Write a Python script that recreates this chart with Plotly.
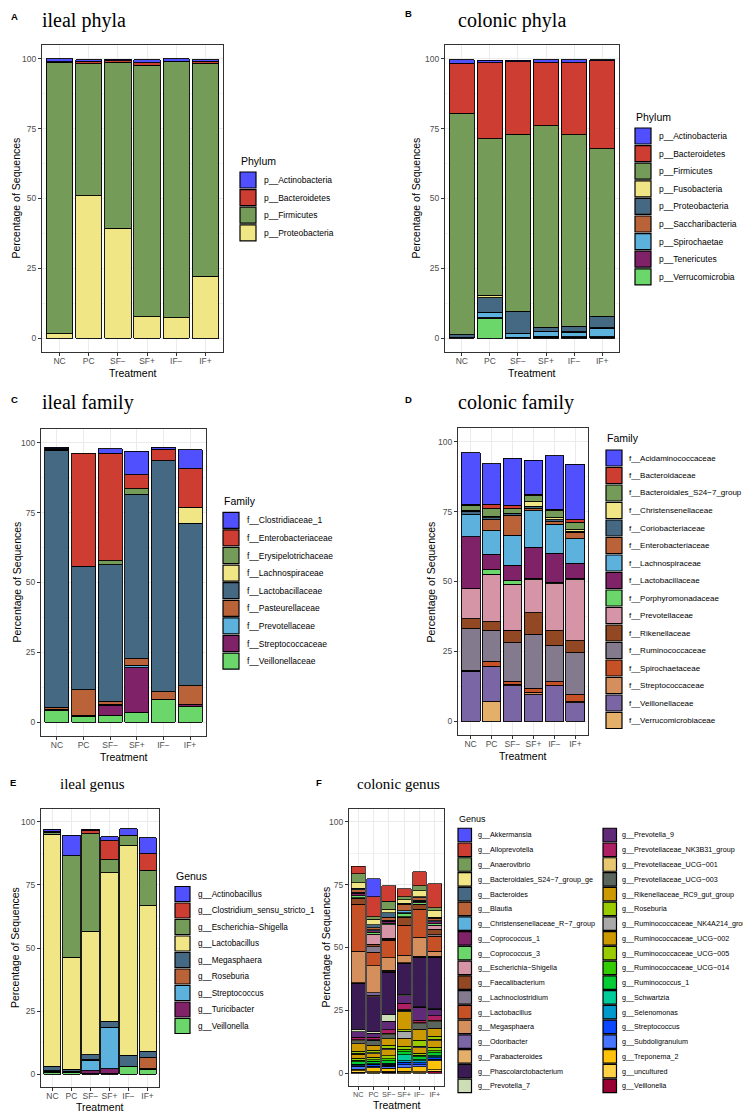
import plotly.graph_objects as go

W, H = 751, 1111
TREATMENTS = ["NC", "PC", "SF−", "SF+", "IF−", "IF+"]

IGV = ["#5050FF", "#CE3D32", "#749B58", "#F0E685", "#466983", "#BA6338", "#5DB1DD",
       "#802268", "#6BD76B", "#D595A7", "#924822", "#837B8D", "#C75127", "#D58F5C",
       "#7A65A5", "#E4AF69", "#3B1B53", "#CDDEB7", "#612A79", "#AE1F63", "#E7C76F",
       "#5A655E", "#CC9900", "#99CC00", "#A9A9A9", "#CC9900", "#99CC00", "#33CC00",
       "#00CC33", "#00CC99", "#0099CC", "#0A47FF", "#4775FF", "#FFC20A", "#FFD147",
       "#990033"]

# ---------------- A: ileal phyla ----------------
ileal_phyla_names = ["p__Actinobacteria", "p__Bacteroidetes", "p__Firmicutes", "p__Proteobacteria"]
ip_actinobacteria = [1.0, 0.6, 0.5, 1.0, 0.8, 0.6]
ip_bacteroidetes = [0.1, 1.0, 0.5, 1.0, 0.2, 0.8]
ip_firmicutes = [97.4, 47.2, 59.6, 90.1, 91.7, 76.3]
ip_proteobacteria = [1.5, 51.0, 39.3, 7.6, 7.3, 22.1]
ileal_phyla_values = [ip_actinobacteria, ip_bacteroidetes, ip_firmicutes, ip_proteobacteria]

# ---------------- B: colonic phyla ----------------
colonic_phyla_names = ["p__Actinobacteria", "p__Bacteroidetes", "p__Firmicutes", "p__Fusobacteria",
                       "p__Proteobacteria", "p__Saccharibacteria", "p__Spirochaetae",
                       "p__Tenericutes", "p__Verrucomicrobia"]
cp_actinobacteria = [1.4, 0.9, 0.5, 1.1, 1.0, 0.4]
cp_bacteroidetes = [17.8, 27.2, 26.0, 22.7, 25.8, 31.5]
cp_firmicutes = [79.5, 56.2, 63.4, 72.2, 68.7, 60.1]
cp_fusobacteria = [0, 0.8, 0, 0, 0, 0]
cp_proteobacteria = [0.8, 5.3, 7.8, 1.3, 1.9, 4.1]
cp_saccharibacteria = [0, 0.2, 0.3, 0.3, 0.3, 0.2]
cp_spirochaetae = [0.3, 1.8, 1.3, 1.6, 1.5, 3.1]
cp_tenericutes = [0, 0.2, 0.2, 0.3, 0.3, 0.2]
cp_verrucomicrobia = [0, 7.0, 0, 0.3, 0.2, 0.2]
colonic_phyla_values = [cp_actinobacteria, cp_bacteroidetes, cp_firmicutes, cp_fusobacteria,
                        cp_proteobacteria, cp_saccharibacteria, cp_spirochaetae,
                        cp_tenericutes, cp_verrucomicrobia]

# ---------------- C: ileal family ----------------
ileal_family_names = ["f__Clostridiaceae_1", "f__Enterobacteriaceae", "f__Erysipelotrichaceae",
                      "f__Lachnospiraceae", "f__Lactobacillaceae", "f__Pasteurellaceae",
                      "f__Prevotellaceae", "f__Streptococcaceae", "f__Veillonellaceae"]
if_clostridiaceae_1 = [0.5, 0, 1.6, 8.4, 0.6, 6.8]
if_enterobacteriaceae = [0.2, 40.6, 38.6, 5.0, 4.1, 13.9]
if_erysipelotrichaceae = [0.3, 0, 1.4, 1.9, 0, 0]
if_lachnospiraceae = [0, 0, 0, 0, 0, 5.6]
if_lactobacillaceae = [92.1, 44.3, 48.9, 59.1, 82.9, 58.3]
if_pasteurellaceae = [0.8, 9.0, 1.2, 2.2, 2.6, 6.7]
if_prevotellaceae = [0, 0, 0.3, 1.0, 0, 0]
if_streptococcaceae = [0.5, 0.5, 3.5, 15.9, 0.2, 0.8]
if_veillonellaceae = [4.0, 2.0, 2.5, 3.5, 8.0, 5.5]
ileal_family_values = [if_clostridiaceae_1, if_enterobacteriaceae, if_erysipelotrichaceae,
                       if_lachnospiraceae, if_lactobacillaceae, if_pasteurellaceae,
                       if_prevotellaceae, if_streptococcaceae, if_veillonellaceae]

# ---------------- D: colonic family ----------------
colonic_family_names = ["f__Acidaminococcaceae", "f__Bacteroidaceae", "f__Bacteroidales_S24−7_group",
                        "f__Christensenellaceae", "f__Coriobacteriaceae", "f__Enterobacteriaceae",
                        "f__Lachnospiraceae", "f__Lactobacillaceae", "f__Porphyromonadaceae",
                        "f__Prevotellaceae", "f__Rikenellaceae", "f__Ruminococcaceae",
                        "f__Spirochaetaceae", "f__Streptococcaceae", "f__Veillonellaceae",
                        "f__Verrucomicrobiaceae"]
cf_acidaminococcaceae = [18.5, 14.6, 16.8, 12.2, 19.2, 19.8]
cf_bacteroidaceae = [0.3, 1.5, 1.4, 0.4, 0.4, 0.9]
cf_s24_7_group = [1.9, 2.7, 1.5, 2.3, 2.6, 2.8]
cf_christensenellaceae = [0.3, 0.6, 0.2, 1.5, 0.7, 0.5]
cf_coriobacteriaceae = [1.2, 0.6, 0.6, 0.8, 0.7, 0.4]
cf_enterobacteriaceae = [0, 4.0, 7.2, 0.8, 0.8, 2.3]
cf_lachnospiraceae = [7.9, 8.4, 10.7, 13.2, 10.4, 8.7]
cf_lactobacillaceae = [18.7, 5.6, 5.6, 11.0, 10.4, 5.6]
cf_porphyromonadaceae = [0, 1.6, 1.2, 0.6, 0.6, 0.4]
cf_prevotellaceae = [10.8, 17.0, 16.5, 11.8, 16.9, 21.9]
cf_rikenellaceae = [3.6, 3.3, 4.4, 7.7, 5.3, 4.2]
cf_ruminococcaceae = [14.8, 10.8, 13.8, 19.3, 13.0, 15.1]
cf_spirochaetaceae = [0.3, 1.8, 1.2, 1.4, 1.4, 2.5]
cf_streptococcaceae = [0, 0, 0.5, 1.0, 0, 0.4]
cf_veillonellaceae = [17.9, 12.7, 12.6, 9.4, 12.6, 6.5]
cf_verrucomicrobiaceae = [0, 7.0, 0, 0, 0, 0]
colonic_family_values = [cf_acidaminococcaceae, cf_bacteroidaceae, cf_s24_7_group,
                         cf_christensenellaceae, cf_coriobacteriaceae, cf_enterobacteriaceae,
                         cf_lachnospiraceae, cf_lactobacillaceae, cf_porphyromonadaceae,
                         cf_prevotellaceae, cf_rikenellaceae, cf_ruminococcaceae,
                         cf_spirochaetaceae, cf_streptococcaceae, cf_veillonellaceae,
                         cf_verrucomicrobiaceae]

# ---------------- E: ileal genus ----------------
ileal_genus_names = ["g__Actinobacillus", "g__Clostridium_sensu_stricto_1", "g__Escherichia−Shigella",
                     "g__Lactobacillus", "g__Megasphaera", "g__Roseburia", "g__Streptococcus",
                     "g__Turicibacter", "g__Veillonella"]
ig_actinobacillus = [0.7, 8.1, 0.4, 1.6, 2.6, 6.4]
ig_clostridium = [0.4, 0, 1.3, 7.4, 0, 6.6]
ig_escherichia = [0.8, 40.1, 38.5, 5.2, 4.1, 14.0]
ig_lactobacillus = [91.7, 44.3, 48.9, 58.8, 82.9, 57.6]
ig_megasphaera = [1.9, 0.8, 2.0, 2.4, 4.3, 2.4]
ig_roseburia = [0.2, 0, 0.3, 0.2, 0.3, 4.4]
ig_streptococcus = [0, 0, 4.0, 16.1, 0, 0]
ig_turicibacter = [0.4, 0.5, 1.2, 1.8, 0, 0.3]
ig_veillonella = [0.8, 0.8, 0.3, 0.5, 3.0, 2.0]
ileal_genus_values = [ig_actinobacillus, ig_clostridium, ig_escherichia, ig_lactobacillus,
                      ig_megasphaera, ig_roseburia, ig_streptococcus, ig_turicibacter,
                      ig_veillonella]

# ---------------- F: colonic genus ----------------
colonic_genus_names = [
    "g__Akkermansia", "g__Alloprevotella", "g__Anaerovibrio", "g__Bacteroidales_S24−7_group_ge",
    "g__Bacteroides", "g__Blautia", "g__Christensenellaceae_R−7_group", "g__Coprococcus_1",
    "g__Coprococcus_3", "g__Escherichia−Shigella", "g__Faecalibacterium", "g__Lachnoclostridium",
    "g__Lactobacillus", "g__Megasphaera", "g__Odoribacter", "g__Parabacteroides",
    "g__Phascolarctobacterium", "g__Prevotella_7", "g__Prevotella_9",
    "g__Prevotellaceae_NK3B31_group", "g__Prevotellaceae_UCG−001", "g__Prevotellaceae_UCG−003",
    "g__Rikenellaceae_RC9_gut_group", "g__Roseburia", "g__Ruminococcaceae_NK4A214_group",
    "g__Ruminococcaceae_UCG−002", "g__Ruminococcaceae_UCG−005", "g__Ruminococcaceae_UCG−014",
    "g__Ruminococcus_1", "g__Schwartzia", "g__Selenomonas", "g__Streptococcus",
    "g__Subdoligranulum", "g__Treponema_2", "g__uncultured", "g__Veillonella"]
cg_akkermansia = [0, 7.2, 0, 0, 0, 0]
cg_alloprevotella = [2.9, 7.8, 6.2, 3.1, 5.4, 9.6]
cg_anaerovibrio = [3.5, 1.1, 3.3, 1.2, 2.1, 1.2]
cg_s24_7_group_ge = [2.3, 2.1, 1.2, 1.5, 2.3, 2.6]
cg_bacteroides = [0.5, 1.3, 1.8, 0.4, 0.4, 0.3]
cg_blautia = [1.0, 0.8, 1.3, 2.5, 1.0, 1.0]
cg_christensenellaceae = [0.4, 0.3, 0.3, 0.7, 0.5, 0.4]
cg_coprococcus_1 = [1.0, 0.6, 0.8, 0.3, 0.5, 0.8]
cg_coprococcus_3 = [0.8, 0.8, 0.6, 1.4, 0.6, 0.6]
cg_escherichia = [0.3, 4.0, 5.5, 0.2, 0.2, 1.6]
cg_faecalibacterium = [2.4, 1.0, 0.4, 3.1, 1.8, 2.3]
cg_lachnoclostridium = [0.2, 2.1, 0.3, 0.3, 0.3, 0.5]
cg_lactobacillus = [18.4, 5.4, 7.0, 11.7, 10.8, 6.0]
cg_megasphaera = [12.4, 10.8, 4.9, 2.9, 7.6, 2.0]
cg_odoribacter = [0.2, 1.0, 0.5, 0.2, 0.3, 0.3]
cg_parabacteroides = [0.3, 0.5, 0.3, 0.2, 0.3, 0.3]
cg_phascolarctobacterium = [18.0, 14.0, 16.9, 12.2, 19.3, 20.0]
cg_prevotella_7 = [1.0, 0.5, 2.5, 0.5, 0.4, 0.4]
cg_prevotella_9 = [2.2, 1.6, 3.4, 3.0, 5.1, 2.7]
cg_nk3b31 = [1.1, 1.0, 1.5, 2.4, 1.0, 1.6]
cg_ucg_001 = [0.3, 0.3, 0.5, 0.4, 0.3, 0.6]
cg_ucg_003 = [1.2, 1.9, 1.6, 0.6, 2.2, 2.6]
cg_rikenellaceae_rc9 = [3.0, 2.0, 2.6, 7.2, 4.4, 3.2]
cg_roseburia = [0.7, 0.9, 1.3, 0.6, 2.5, 1.3]
cg_nk4a214 = [0.5, 0.4, 0.6, 2.8, 0.6, 0.6]
cg_rum_ucg_002 = [1.6, 1.5, 2.2, 3.2, 2.0, 2.5]
cg_rum_ucg_005 = [0.8, 1.0, 1.2, 1.2, 0.8, 1.4]
cg_rum_ucg_014 = [0.6, 0.5, 0.8, 0.8, 0.6, 0.8]
cg_ruminococcus_1 = [1.0, 1.0, 1.0, 1.2, 1.2, 1.2]
cg_schwartzia = [0.2, 0.2, 0.5, 2.5, 0.4, 0.3]
cg_selenomonas = [0.3, 0.3, 0.4, 0.6, 0.8, 0.5]
cg_streptococcus = [0.3, 0.5, 0.4, 1.0, 0.8, 0.5]
cg_subdoligranulum = [1.2, 0.6, 0.8, 1.2, 0.8, 0.6]
cg_treponema_2 = [0.5, 1.7, 1.2, 1.4, 2.0, 3.6]
cg_uncultured = [0.6, 0.4, 0.4, 0.5, 0.4, 0.6]
cg_veillonella = [0.5, 0.2, 0.4, 0.3, 0.3, 0.9]
colonic_genus_values = [
    cg_akkermansia, cg_alloprevotella, cg_anaerovibrio, cg_s24_7_group_ge, cg_bacteroides,
    cg_blautia, cg_christensenellaceae, cg_coprococcus_1, cg_coprococcus_3, cg_escherichia,
    cg_faecalibacterium, cg_lachnoclostridium, cg_lactobacillus, cg_megasphaera, cg_odoribacter,
    cg_parabacteroides, cg_phascolarctobacterium, cg_prevotella_7, cg_prevotella_9, cg_nk3b31,
    cg_ucg_001, cg_ucg_003, cg_rikenellaceae_rc9, cg_roseburia, cg_nk4a214, cg_rum_ucg_002,
    cg_rum_ucg_005, cg_rum_ucg_014, cg_ruminococcus_1, cg_schwartzia, cg_selenomonas,
    cg_streptococcus, cg_subdoligranulum, cg_treponema_2, cg_uncultured, cg_veillonella]

SANS = "Liberation Sans, Arial, sans-serif"
SERIF = "Liberation Serif, Times New Roman, serif"


def fx(x):
    return x / W


def fy(y):
    return 1 - y / H


panels = [
    dict(letter="A", title="ileal phyla", box=(34, 215, 37, 344), tpos=(32, 13), lpos=(6, 8), tsize=20,
         ytx=8, xfs=8.5, tt=21, names=ileal_phyla_names, values=ileal_phyla_values, legend_title="Phylum",
         leg=dict(kx=232, ty=153, y0=172, step=17.6, ks=16, tx=254, fs=8.5, tfs=10.5)),
    dict(letter="B", title="colonic phyla", box=(437, 611, 37, 344), tpos=(448, 13), lpos=(400, 6), tsize=20,
         ytx=408, xfs=8.5, tt=21, names=colonic_phyla_names, values=colonic_phyla_values, legend_title="Phylum",
         leg=dict(kx=627, ty=109, y0=128, step=17.6, ks=16, tx=649, fs=8.5, tfs=10.5)),
    dict(letter="C", title="ileal family", box=(33, 198, 421, 728), tpos=(32, 395), lpos=(6, 392), tsize=20,
         ytx=8, xfs=8.5, tt=21, names=ileal_family_names, values=ileal_family_values, legend_title="Family",
         leg=dict(kx=215, ty=493, y0=512.3, step=17.6, ks=16, tx=237, fs=8.5, tfs=10.5)),
    dict(letter="D", title="colonic family", box=(450, 580, 420, 727), tpos=(448, 395), lpos=(400, 392), tsize=20,
         ytx=422, xfs=8.5, tt=21, names=colonic_family_names, values=colonic_family_values, legend_title="Family",
         leg=dict(kx=598, ty=430, y0=450, step=17.5, ks=16, tx=619, fs=8.0, tfs=10.5)),
    dict(letter="E", title="ileal genus", box=(33, 151, 801, 1079), tpos=(50, 776), lpos=(5, 774), tsize=15,
         ytx=7, xfs=8.5, tt=20, names=ileal_genus_names, values=ileal_genus_values, legend_title="Genus",
         leg=dict(kx=167, ty=868, y0=886, step=16.5, ks=15, tx=188, fs=8.2, tfs=10.5)),
    dict(letter="F", title="colonic genus", box=(341, 436, 801, 1078), tpos=(347, 776), lpos=(311, 774), tsize=15,
         ytx=317, xfs=7.3, tt=19, names=colonic_genus_names, values=colonic_genus_values, legend_title="Genus",
         leg=dict(kx=450, ty=811, y0=827, step=14.76, ks=13.5, tx=468, fs=7.2, tfs=9, col2=(595, 612), per_col=18)),
]

fig = go.Figure()
layout = dict(width=W, height=H, margin=dict(l=0, r=0, t=0, b=0), autosize=False,
              barmode="stack", plot_bgcolor="white", paper_bgcolor="white",
              font=dict(family=SANS, color="black"), showlegend=False)
annotations = []
shapes = []

for k, p in enumerate(panels):
    sfx = "" if k == 0 else str(k + 1)
    x0, x1, y0, y1 = p["box"]
    layout["xaxis" + sfx] = dict(
        domain=[fx(x0), fx(x1)], anchor="y" + sfx, type="category",
        categoryorder="array", categoryarray=TREATMENTS, range=[-0.6, 5.6],
        ticks="outside", ticklen=3, tickcolor="#333333", tickwidth=1, tickangle=0,
        ticklabelstandoff=-2,
        tickfont=dict(size=p["xfs"], color="#4D4D4D", family=SANS),
        showgrid=True, gridcolor="#EBEBEB", gridwidth=1,
        showline=True, linecolor="#333333", linewidth=1, mirror=True, zeroline=False,
        fixedrange=True)
    layout["yaxis" + sfx] = dict(
        domain=[fy(y1), fy(y0)], anchor="x" + sfx, range=[-5, 105],
        tickmode="array", tickvals=[0, 25, 50, 75, 100], ticktext=["0", "25", "50", "75", "100"],
        ticks="outside", ticklen=3, tickcolor="#333333", tickwidth=1,
        tickfont=dict(size=8.5, color="#4D4D4D", family=SANS),
        showgrid=True, gridcolor="#EBEBEB", gridwidth=1,
        minor=dict(tickmode="array", tickvals=[12.5, 37.5, 62.5, 87.5], showgrid=True,
                   gridcolor="#F2F2F2", gridwidth=0.6, ticks=""),
        showline=True, linecolor="#333333", linewidth=1, mirror=True, zeroline=False,
        fixedrange=True)

    names = p["names"]
    values = p["values"]
    lw = 0.7 if p["letter"] == "F" else 0.9
    for i in reversed(range(len(names))):
        vals = [v if v > 0 else None for v in values[i]]
        fig.add_trace(go.Bar(
            x=TREATMENTS, y=vals, name=names[i], width=0.9,
            marker=dict(color=IGV[i], line=dict(color="black", width=lw)),
            xaxis="x" + sfx, yaxis="y" + sfx, showlegend=False))

    annotations.append(dict(text=p["title"], x=fx(p["tpos"][0]), y=fy(p["tpos"][1]),
                            xref="paper", yref="paper", xanchor="left", yanchor="middle",
                            showarrow=False, font=dict(family=SERIF, size=p["tsize"], color="black")))
    annotations.append(dict(text="<b>" + p["letter"] + "</b>", x=fx(p["lpos"][0]), y=fy(p["lpos"][1]),
                            xref="paper", yref="paper", xanchor="center", yanchor="middle",
                            showarrow=False, font=dict(family=SANS, size=9.5, color="black")))
    annotations.append(dict(text="Percentage of Sequences", x=fx(p["ytx"]), y=fy((y0 + y1) / 2),
                            xref="paper", yref="paper", xanchor="center", yanchor="middle",
                            textangle=-90, showarrow=False, font=dict(family=SANS, size=10.5, color="black")))
    annotations.append(dict(text="Treatment", x=fx((x0 + x1) / 2), y=fy(y1 + p["tt"]),
                            xref="paper", yref="paper", xanchor="center", yanchor="middle",
                            showarrow=False, font=dict(family=SANS, size=10.5, color="black")))

    lg = p["leg"]
    annotations.append(dict(text=p["legend_title"], x=fx(lg["kx"] - 1), y=fy(lg["ty"]),
                            xref="paper", yref="paper", xanchor="left", yanchor="middle",
                            showarrow=False, font=dict(family=SANS, size=lg["tfs"], color="black")))
    per_col = lg.get("per_col", len(names))
    for i, n in enumerate(names):
        col = i // per_col
        row = i % per_col
        if col == 0:
            kx, tx = lg["kx"], lg["tx"]
        else:
            kx, tx = lg["col2"]
        cy = lg["y0"] + row * lg["step"]
        ks = lg["ks"]
        shapes.append(dict(type="rect", xref="paper", yref="paper",
                           x0=fx(kx), x1=fx(kx + ks), y0=fy(cy + ks / 2), y1=fy(cy - ks / 2),
                           fillcolor=IGV[i], line=dict(color="black", width=1.2), layer="above"))
        annotations.append(dict(text=n, x=fx(tx), y=fy(cy), xref="paper", yref="paper",
                                xanchor="left", yanchor="middle", showarrow=False,
                                font=dict(family=SANS, size=lg["fs"], color="black")))

layout["annotations"] = annotations
layout["shapes"] = shapes
fig.update_layout(**layout)
fig.write_html("out.html")
